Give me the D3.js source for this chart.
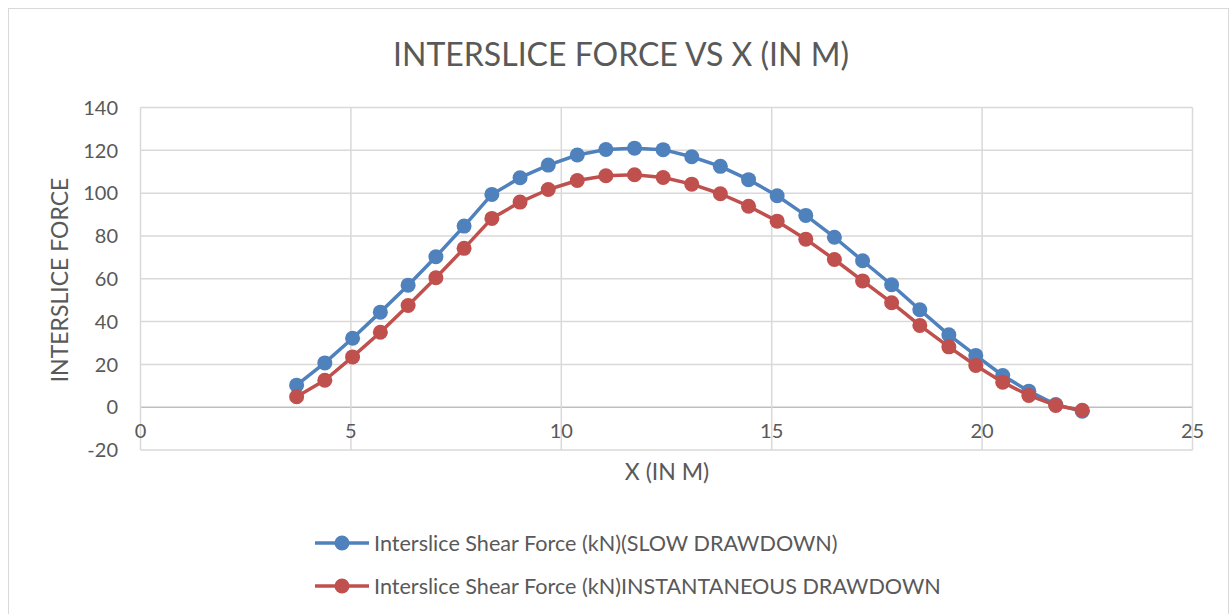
<!DOCTYPE html>
<html>
<head>
<meta charset="utf-8">
<script src="https://cdn.jsdelivr.net/npm/d3@7"></script>
<style>
  body { margin: 0; background: #fff; }
  svg text { font-family: Lato, "Open Sans", sans-serif; fill: #595959; }
</style>
</head>
<body>
<svg id="chart" width="1230" height="614"></svg>
<script>
// Interslice force vs x, two drawdown cases

// x positions of the slices (m)
const xValues = [3.71, 4.38, 5.04, 5.70, 6.36, 7.02, 7.69, 8.35, 9.02, 9.69,
    10.38, 11.06, 11.74, 12.42, 13.10, 13.78, 14.45, 15.13, 15.81, 16.49,
    17.16, 17.85, 18.52, 19.21, 19.85, 20.49, 21.11, 21.75, 22.38];

// interslice shear force (kN), slow drawdown
const slowValues = [10.3, 20.7, 32.2, 44.4, 57.0, 70.3, 84.6, 99.4, 107.2, 113.1,
    117.8, 120.4, 121.0, 120.3, 117.0, 112.5, 106.3, 98.8, 89.6, 79.4,
    68.4, 57.2, 45.5, 33.8, 24.2, 14.8, 7.5, 1.2, -1.9];

// interslice shear force (kN), instantaneous drawdown
const instantValues = [4.9, 12.6, 23.5, 35.0, 47.5, 60.5, 74.2, 88.2, 95.8, 101.7,
    105.9, 108.1, 108.6, 107.3, 104.2, 99.7, 93.9, 86.9, 78.5, 69.0,
    59.0, 48.8, 38.2, 28.2, 19.5, 11.7, 5.5, 0.8, -1.4];

const xTicks = [0, 5, 10, 15, 20, 25];
const yTicks = [-20, 0, 20, 40, 60, 80, 100, 120, 140];

const seriesNames = [
    "Interslice Shear Force (kN)(SLOW DRAWDOWN)",
    "Interslice Shear Force (kN)INSTANTANEOUS DRAWDOWN"
];
const seriesColors = ["#4f81bd", "#c0504d"];

const svg = d3.select("#chart");

// outer chart border
svg.append("rect")
    .attr("x", 8.5).attr("y", 8.5)
    .attr("width", 1220).attr("height", 620)
    .attr("fill", "none")
    .attr("stroke", "#d9d9d9");

// scales
const x = d3.scaleLinear().domain([0, 25]).range([140.5, 1192.5]);
const y = d3.scaleLinear().domain([-20, 140]).range([450, 107.5]);

// gridlines
const grid = svg.append("g");
grid.selectAll(".hgrid")
    .data(yTicks)
    .join("line")
    .attr("x1", x(0)).attr("x2", x(25))
    .attr("y1", d => y(d)).attr("y2", d => y(d))
    .attr("stroke", d => d === 0 ? "#bfbfbf" : "#d9d9d9")
    .attr("stroke-width", 1.5);

grid.selectAll(".vgrid")
    .data(xTicks)
    .join("line")
    .attr("x1", d => x(d)).attr("x2", d => x(d))
    .attr("y1", y(140)).attr("y2", y(-20))
    .attr("stroke", "#d9d9d9")
    .attr("stroke-width", 1.5);

// y tick labels
svg.append("g")
    .selectAll("text")
    .data(yTicks)
    .join("text")
    .attr("x", 118)
    .attr("y", d => y(d))
    .attr("dy", "0.36em")
    .attr("text-anchor", "end")
    .style("font-size", "20px")
    .text(d => d);

// x tick labels (sit just under the zero line)
svg.append("g")
    .selectAll("text")
    .data(xTicks)
    .join("text")
    .attr("x", d => x(d))
    .attr("y", y(0) + 31)
    .attr("text-anchor", "middle")
    .style("font-size", "20px")
    .text(d => d);

// titles
svg.append("text")
    .attr("x", 621).attr("y", 66)
    .attr("text-anchor", "middle")
    .style("font-size", "32px")
    .text("INTERSLICE FORCE VS X (IN M)");

svg.append("text")
    .attr("x", 667).attr("y", 480)
    .attr("text-anchor", "middle")
    .style("font-size", "23px")
    .text("X (IN M)");

svg.append("text")
    .attr("transform", "translate(68,280) rotate(-90)")
    .attr("text-anchor", "middle")
    .style("font-size", "23px")
    .text("INTERSLICE FORCE");

// series
const allSeries = [slowValues, instantValues].map((vals, i) => ({
    name: seriesNames[i],
    color: seriesColors[i],
    points: vals.map((v, j) => ({ x: xValues[j], y: v }))
}));

const line = d3.line().x(d => x(d.x)).y(d => y(d.y));

allSeries.forEach(s => {
    const g = svg.append("g");
    g.append("path")
        .datum(s.points)
        .attr("d", line)
        .attr("fill", "none")
        .attr("stroke", s.color)
        .attr("stroke-width", 3.5)
        .attr("stroke-linejoin", "round");
    g.selectAll("circle")
        .data(s.points)
        .join("circle")
        .attr("cx", d => x(d.x))
        .attr("cy", d => y(d.y))
        .attr("r", 7.5)
        .attr("fill", s.color);
});

// legend
const legend = svg.append("g")
    .selectAll("g")
    .data(allSeries)
    .join("g")
    .attr("transform", (d, i) => `translate(315, ${543 + i * 43})`);

legend.append("line")
    .attr("x1", 0).attr("x2", 54)
    .attr("stroke", d => d.color)
    .attr("stroke-width", 3.5);

legend.append("circle")
    .attr("cx", 27)
    .attr("r", 7.5)
    .attr("fill", d => d.color);

legend.append("text")
    .attr("x", 59)
    .attr("dy", "0.36em")
    .style("font-size", "21.6px")
    .text(d => d.name);
</script>
</body>
</html>
